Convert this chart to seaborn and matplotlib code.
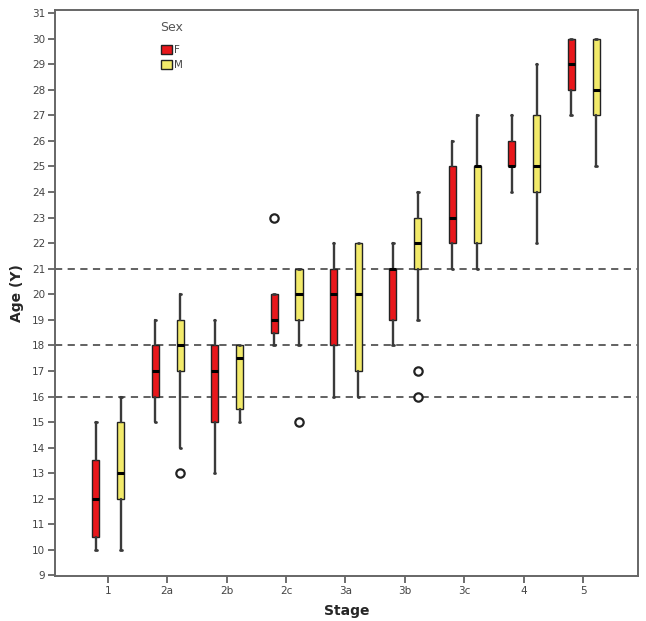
import matplotlib
matplotlib.use("Agg")
import matplotlib.pyplot as plt
from matplotlib.patches import Patch
import seaborn as sns

stages = ["1", "2a", "2b", "2c", "3a", "3b", "3c", "4", "5"]
sexes = ["F", "M"]

F_whislo = [10, 15, 13, 18, 16, 18, 21, 24, 27]
F_q1 = [10.5, 16, 15, 18.5, 18, 19, 22, 25, 28]
F_med = [12, 17, 17, 19, 20, 21, 23, 25, 29]
F_q3 = [13.5, 18, 18, 20, 21, 21, 25, 26, 30]
F_whishi = [15, 19, 19, 20, 22, 22, 26, 27, 30]
F_fliers = [[], [], [], [23], [], [], [], [], []]

M_whislo = [10, 14, 15, 18, 16, 19, 21, 22, 25]
M_q1 = [12, 17, 15.5, 19, 17, 21, 22, 24, 27]
M_med = [13, 18, 17.5, 20, 20, 22, 25, 25, 28]
M_q3 = [15, 19, 18, 21, 22, 23, 25, 27, 30]
M_whishi = [16, 20, 18, 21, 22, 24, 27, 29, 30]
M_fliers = [[], [13], [], [15], [], [16, 17], [], [], []]

ref_lines = [16, 18, 21]
yticks = list(range(9, 32))

colors = {"F": "#e8171b", "M": "#f2ea6a"}

sns.set_style("white")
plt.rcParams["font.family"] = ["DejaVu Sans"]

fig = plt.figure(figsize=(6.46, 6.21), dpi=100)
ax = fig.add_axes([0.085, 0.0725, 0.903, 0.9115])

series = {
    "F": (F_whislo, F_q1, F_med, F_q3, F_whishi, F_fliers),
    "M": (M_whislo, M_q1, M_med, M_q3, M_whishi, M_fliers),
}
offsets = {"F": -0.2, "M": 0.22}

for y in ref_lines:
    ax.axhline(y, color="#555555", lw=1.3, ls=(0, (4, 3)), zorder=1)

for sex in sexes:
    wl, q1, md, q3, wh, fl = series[sex]
    stats = []
    for i in range(len(stages)):
        stats.append(dict(whislo=wl[i], q1=q1[i], med=md[i], q3=q3[i],
                          whishi=wh[i], fliers=fl[i], label=stages[i]))
    pos = [i + offsets[sex] for i in range(len(stages))]
    ax.bxp(stats, positions=pos, widths=0.12, patch_artist=True,
           showfliers=True, manage_ticks=False, capwidths=0.025,
           boxprops=dict(facecolor=colors[sex], edgecolor="#222222", lw=1.0),
           medianprops=dict(color="black", lw=2.2),
           whiskerprops=dict(color="#3a3a3a", lw=1.7),
           capprops=dict(color="#3a3a3a", lw=2.0),
           flierprops=dict(marker="o", markersize=6, markerfacecolor="white",
                           markeredgecolor="#222222", markeredgewidth=1.6),
           zorder=3)

ax.set_xlim(-0.89, 8.93)
ax.set_ylim(8.98, 31.12)
ax.set_xticks(range(len(stages)))
ax.set_xticklabels(stages)
ax.set_yticks(yticks)
ax.set_yticklabels([str(v) for v in yticks])
ax.tick_params(axis="both", direction="out", length=5, width=1.2,
               color="#555555", labelsize=7.5, labelcolor="#444444", pad=2)
ax.tick_params(axis="both", which="both", bottom=True, left=True)

for s in ax.spines.values():
    s.set_color("#666666")
    s.set_linewidth(1.4)

ax.set_xlabel("Stage", fontsize=10, fontweight="bold", labelpad=6)
ax.set_ylabel("Age (Y)", fontsize=10, fontweight="bold", labelpad=6)

handles = [Patch(facecolor=colors[s], edgecolor="#222222", lw=1.0, label=s) for s in sexes]
leg = ax.legend(handles=handles, title="Sex", loc="upper left",
                bbox_to_anchor=(0.165, 0.997), frameon=False, fontsize=7.5,
                title_fontsize=9, handlelength=1.1, handleheight=0.9,
                handletextpad=0.2, labelspacing=0.45, alignment="left")
leg.get_title().set_color("#555555")
leg._legend_box.sep = 8
for t in leg.get_texts():
    t.set_color("#444444")

fig.savefig("out.png", dpi=100)
